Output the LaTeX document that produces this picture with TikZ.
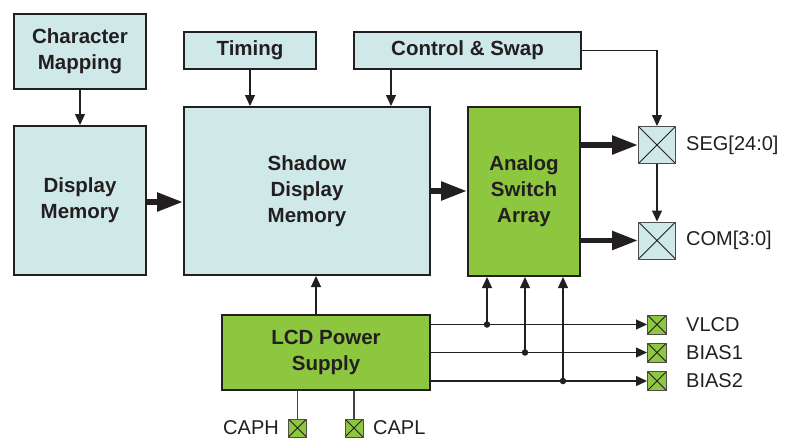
\documentclass[tikz,border=0pt]{standalone}
\usepackage{fontspec}
\setmainfont{Liberation Sans}
\usetikzlibrary{arrows.meta,calc}
\definecolor{lcyan}{HTML}{CFE9E9}
\definecolor{lgreen}{HTML}{8DC63F}
\definecolor{ink}{HTML}{231F20}
\tikzset{
  blk/.style={draw=ink, line width=2pt, align=center, inner sep=0pt,
    font=\fontsize{20.5}{26}\selectfont\bfseries, text=ink},
  cyanbox/.style={blk, fill=lcyan},
  greenbox/.style={blk, fill=lgreen},
  pad/.style={draw=ink!80, line width=1pt, minimum width=#1, minimum height=#1, inner sep=0pt,
    path picture={\draw[ink, line width=0.8pt]
      (path picture bounding box.north west) -- (path picture bounding box.south east)
      (path picture bounding box.north east) -- (path picture bounding box.south west);}},
  lbl/.style={font=\fontsize{20}{22}\selectfont, text=ink, inner sep=0pt},
  thin/.style={draw=ink, line width=1.2pt, -{Triangle[length=11pt,width=10pt]}},
  thinnoarr/.style={draw=ink!85, line width=1.2pt},
  thick/.style={draw=ink, line width=5.5pt, -{Triangle[length=26pt,width=18pt]}},
  dot/.style={circle, fill=ink, inner sep=0pt, minimum size=6.5pt}
}
\begin{document}
\begin{tikzpicture}[x=1pt,y=-1pt]
\useasboundingbox (0,0) rectangle (786,437);
% blocks
\node[cyanbox, minimum width=132pt, minimum height=75pt] (cm) at (80,51.5) {Character\\Mapping};
\node[cyanbox, minimum width=132pt, minimum height=37pt] (tim) at (250,50.5) {Timing};
\node[cyanbox, minimum width=227pt, minimum height=37pt] (cs) at (467.5,50.5) {Control \& Swap};
\node[cyanbox, minimum width=132pt, minimum height=149pt] (dm) at (80,200.5) {Display\\Memory};
\node[cyanbox, minimum width=246pt, minimum height=168pt] (sdm) at (307,191) {Shadow\\Display\\Memory};
\node[greenbox, minimum width=112pt, minimum height=169pt] (asa) at (524,191.5) {Analog\\Switch\\Array};
\node[greenbox, minimum width=208pt, minimum height=75pt] (lcd) at (326,352.5) {LCD Power\\Supply};
% pads
\node[pad=37pt, fill=lcyan] (seg) at (657,145) {};
\node[pad=37pt, fill=lcyan] (com) at (657,240.5) {};
\node[pad=19pt, fill=lgreen] (vlcd) at (657,324.5) {};
\node[pad=19pt, fill=lgreen] (b1) at (657,352.5) {};
\node[pad=19pt, fill=lgreen] (b2) at (657,381) {};
\node[pad=18pt, fill=lgreen] (caph) at (297.5,428) {};
\node[pad=18pt, fill=lgreen] (capl) at (354,428) {};
% labels
\node[lbl, anchor=west] (lseg) at (686,145) {SEG[24:0]};
\node[lbl, anchor=west] (lcom) at (686,240.5) {COM[3:0]};
\node[lbl, anchor=west] (lvlcd) at (686,324.5) {VLCD};
\node[lbl, anchor=west] (lb1) at (686,352.5) {BIAS1};
\node[lbl, anchor=west] (lb2) at (686,381) {BIAS2};
\node[lbl, text depth=0pt, anchor=base east] (lcaph) at (279,434.5) {CAPH};
\node[lbl, text depth=0pt, anchor=base west] (lcapl) at (373,434.5) {CAPL};
% thin connectors
\draw[thin] (cm.south) -- (dm.north);
\draw[thin] (tim.south) -- (tim.south |- sdm.north);
\coordinate (csout) at ($(cs.south west)+(38,0)$);
\draw[thin] (csout) -- (csout |- sdm.north);
\draw[thin] (cs.east) -| (seg.north);
\draw[thin] (seg.south) -- (com.north);
\coordinate (lcdtop) at ($(lcd.north)+(-10,0)$);
\draw[thin] (lcdtop) -- (lcdtop |- sdm.south);
% power lines
\coordinate (d1) at (487,324.5);
\coordinate (d2) at (525,352.5);
\coordinate (d3) at (563,381);
\draw[thin] (lcd.east |- vlcd) -- (vlcd.west);
\draw[thin] (lcd.east |- b1) -- (b1.west);
\draw[thin] (lcd.east |- b2) -- (b2.west);
\draw[thin] (d1) -- (d1 |- asa.south);
\draw[thin] (d2) -- (d2 |- asa.south);
\draw[thin] (d3) -- (d3 |- asa.south);
\node[dot] at (d1) {};
\node[dot] at (d2) {};
\node[dot] at (d3) {};
\draw[thinnoarr] (caph.north) -- (caph.north |- lcd.south);
\draw[thinnoarr] (capl.north) -- (capl.north |- lcd.south);
% thick connectors
\draw[thick] (dm.east |- 0,202) -- (sdm.west |- 0,202);
\draw[thick] (sdm.east |- 0,191) -- (asa.west |- 0,191);
\draw[thick] (asa.east |- seg) -- (seg.west);
\draw[thick] (asa.east |- com) -- (com.west);
\end{tikzpicture}
\end{document}
